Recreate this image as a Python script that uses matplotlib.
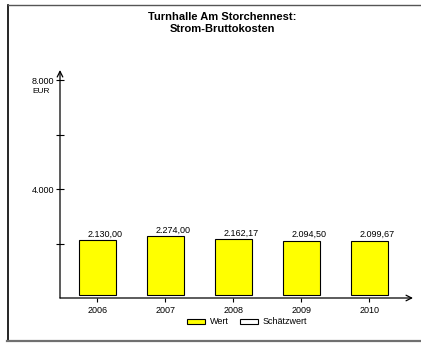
import matplotlib.pyplot as plt
from matplotlib.patches import Patch
from matplotlib.lines import Line2D

plt.rcParams['font.family'] = ['Liberation Sans', 'DejaVu Sans']

years = ['2006', '2007', '2008', '2009', '2010']
werte = [2130.00, 2274.00, 2162.17, 2094.50, 2099.67]
labels = ['2.130,00', '2.274,00', '2.162,17', '2.094,50', '2.099,67']
yticks = [2000, 4000, 6000, 8000]
yticklabels = ['', '4.000', '', '8.000']

W, H = 421, 343
fig = plt.figure(figsize=(W / 100, H / 100), dpi=100)

# outer frame (right edge lies outside the picture)
fig.add_artist(Line2D([7.5 / W, 7.5 / W], [1 - 4.5 / H, 1 - 340 / H], color='black', lw=1.2))
fig.add_artist(Line2D([7.5 / W, 1], [1 - 4.5 / H, 1 - 4.5 / H], color='#555555', lw=1.0))
fig.add_artist(Line2D([7 / W, 1], [1 - 341 / H, 1 - 341 / H], color='#707070', lw=1.6))

ax = fig.add_axes([60 / W, 45 / H, 353 / W, 228 / H])
ax.set_facecolor('none')
ax.set_xlim(-0.55, 4.64)
ax.set_ylim(0, 8370)

x = list(range(len(years)))
base = 110
ax.bar(x, [v - base for v in werte], bottom=base, width=0.55, color='#ffff00',
       edgecolor='black', linewidth=0.8, zorder=3)
for i, v in enumerate(werte):
    ax.text(i + 0.11, v + 60, labels[i], ha='center', va='bottom', fontsize=6.5)

for s in ax.spines.values():
    s.set_visible(False)
ax.annotate('', xy=(0, 1), xytext=(0, 0), xycoords='axes fraction',
            arrowprops=dict(arrowstyle='->', lw=0.9, color='black', shrinkA=0, shrinkB=0))
ax.annotate('', xy=(1, 0), xytext=(0, 0), xycoords='axes fraction',
            arrowprops=dict(arrowstyle='->', lw=0.9, color='black', shrinkA=0, shrinkB=0))

ax.set_yticks(yticks)
ax.set_yticklabels(yticklabels, fontsize=6.5)
ax.tick_params(axis='y', direction='inout', length=6, width=0.8, pad=1)
ax.set_xticks(x)
ax.set_xticklabels(years, fontsize=6.5)
ax.tick_params(axis='x', direction='out', length=3, width=0.8, pad=3)

fig.text(41 / W, 1 - 91 / H, 'EUR', ha='center', va='center', fontsize=6)

fig.text(222 / W, 1 - 23 / H, 'Turnhalle Am Storchennest:\nStrom-Bruttokosten',
         ha='center', va='center', fontsize=8, fontweight='bold', linespacing=1.15)

handles = [Patch(facecolor='#ffff00', edgecolor='black', lw=0.8, label='Wert'),
           Patch(facecolor='white', edgecolor='black', lw=0.8, label='Schätzwert')]
fig.legend(handles=handles, loc='center', bbox_to_anchor=(247 / W, 1 - 322 / H), ncol=2,
           frameon=False, fontsize=6.5, handlelength=2.0, handleheight=0.5,
           handletextpad=0.5, columnspacing=1.2)

fig.savefig('out.png', dpi=100)
